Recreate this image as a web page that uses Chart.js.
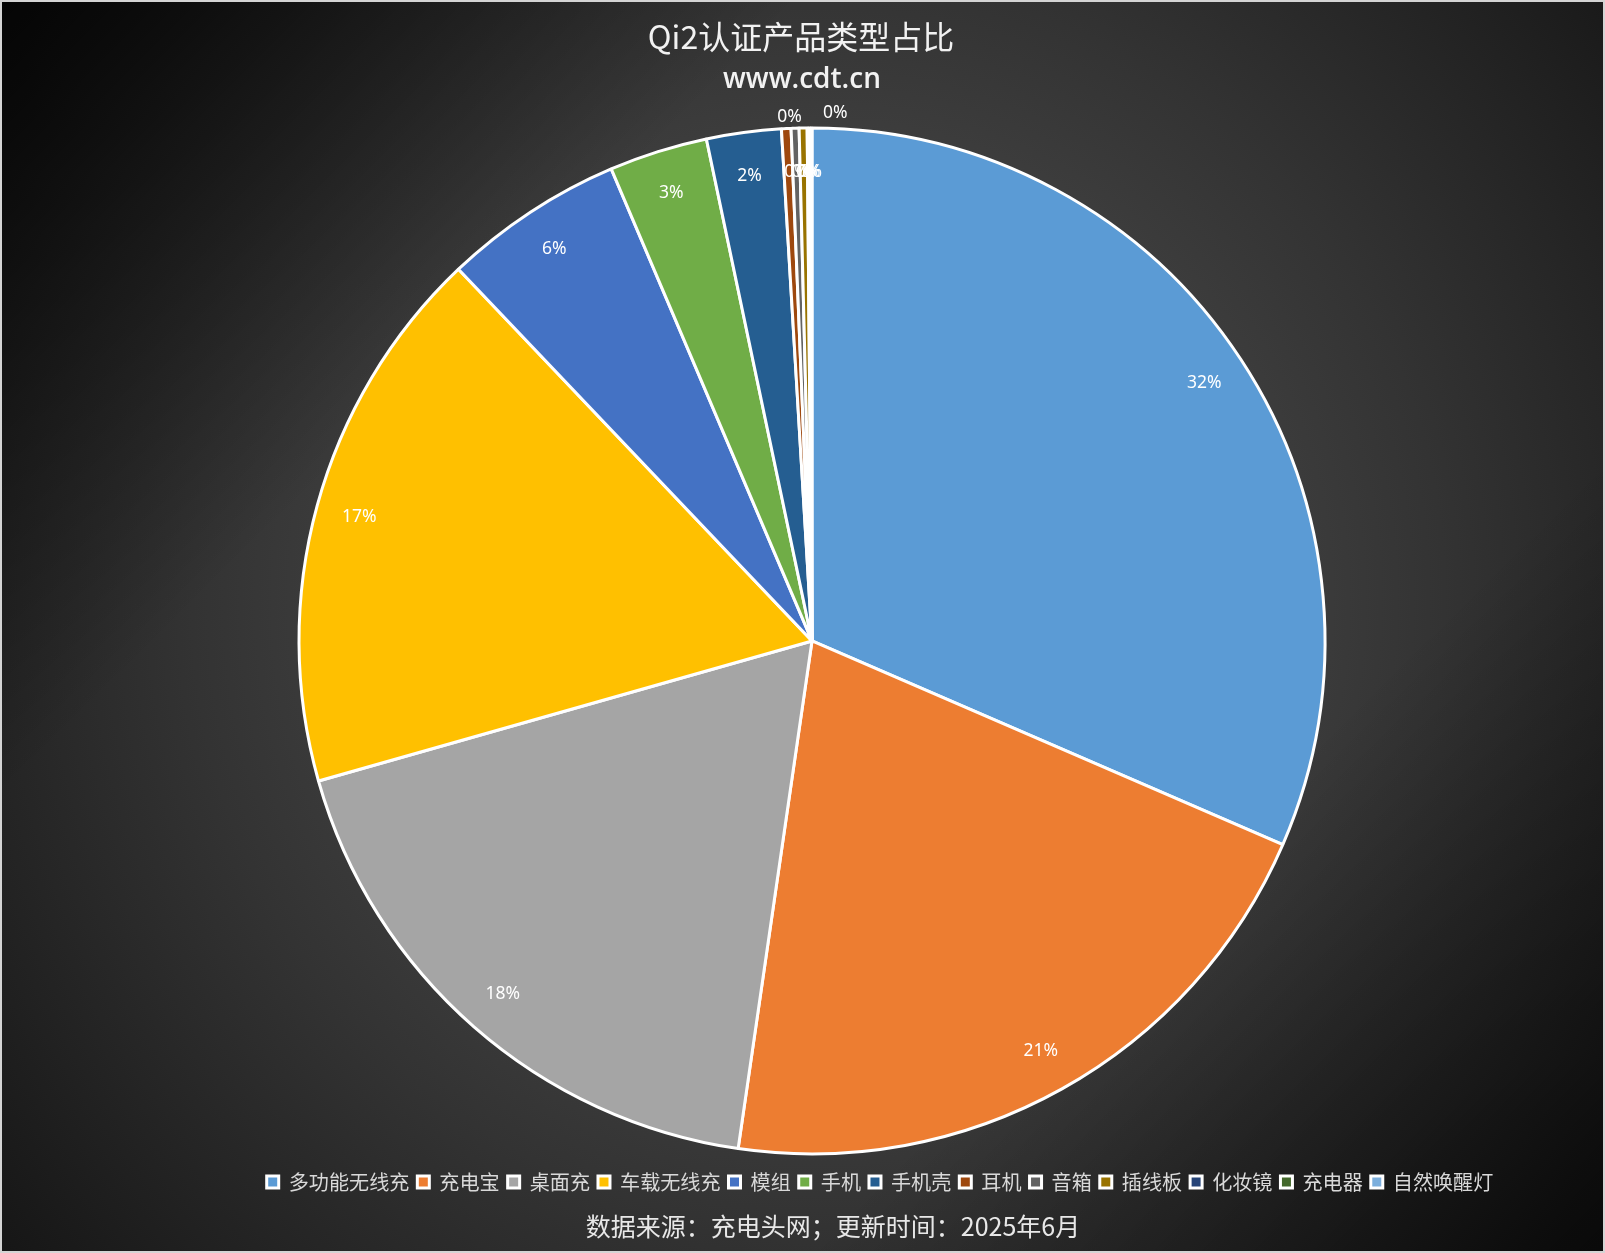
<!DOCTYPE html>
<html>
<head>
<meta charset="utf-8">
<script src="https://cdn.jsdelivr.net/npm/chart.js@4/dist/chart.umd.min.js"></script>
<style>
  html, body { margin: 0; padding: 0; background: #000; }
  #wrap { position: relative; width: 1605px; height: 1253px; overflow: hidden; }
  #bg {
    position: absolute; left: 0; top: 0; width: 1605px; height: 1253px; box-sizing: border-box;
    border: 2px solid #d4d4d4;
    background:
      linear-gradient(135deg, rgba(0,0,0,0.8) 0%, rgba(0,0,0,0) 28%, rgba(0,0,0,0) 72%, rgba(0,0,0,0.6) 100%),
      radial-gradient(circle farthest-corner at 51% 48%, #4a4a4a 0%, #404040 40%, #333333 60%, #262626 78%, #161616 100%);
  }
  canvas { position: absolute; left: 0; top: 0; }
  #footer {
    position: absolute; left: 433px; width: 800px; top: 1209px; line-height: 32px;
    text-align: center; color: #e8e8e8; font-size: 25px;
    font-family: "Noto Sans CJK SC", "Noto Sans", sans-serif;
  }
</style>
</head>
<body>
<div id="wrap">
  <div id="bg"></div>
  <canvas id="c" width="1605" height="1253"></canvas>
  <div id="footer">数据来源：充电头网；更新时间：2025年6月</div>
</div>
<script>
const titleText = 'Qi2认证产品类型占比';
const subtitleText = 'www.cdt.cn';
const categories = ['多功能无线充', '充电宝', '桌面充', '车载无线充', '模组', '手机', '手机壳', '耳机', '音箱', '插线板', '化妆镜', '充电器', '自然唤醒灯'];
const counts = [630, 416, 366, 346, 114, 62, 47, 6, 5, 5, 1, 1, 1];
const colors = ['#5B9BD5', '#ED7D31', '#A5A5A5', '#FFC000', '#4472C4', '#70AD47', '#255E91', '#9E480E', '#636363', '#997300', '#264478', '#43682B', '#7CAFDD'];

// label placement for the tiny slices that Excel pushed outside
const OUTSIDE_LABELS = { 7: { gap: 12, dx: 4 }, 12: { gap: 15, dx: 24 } };

const CJK = '"Noto Sans CJK SC", "Noto Sans", sans-serif';

const shiftPlugin = {
  id: 'shiftBoxes',
  afterLayout(chart) {
    const lg = chart.legend;
    if (lg) { lg.left += 68; lg.right += 68; }
    chart.boxes.forEach(b => {
      if (b.options && b.options.text === titleText) { b.left -= 11; b.right -= 11; }
      if (b.options && b.options.text === subtitleText) { b.left -= 10; b.right -= 10; }
    });
  }
};

const labelPlugin = {
  id: 'sliceLabels',
  afterDatasetsDraw(chart) {
    const ctx = chart.ctx;
    const meta = chart.getDatasetMeta(0);
    const data = chart.data.datasets[0].data;
    const total = data.reduce((a, b) => a + b, 0);
    ctx.save();
    ctx.font = '17.5px "Noto Sans", sans-serif';
    ctx.fillStyle = '#ffffff';
    ctx.textAlign = 'center';
    ctx.textBaseline = 'middle';
    meta.data.forEach((arc, i) => {
      const p = arc.getProps(['x', 'y', 'startAngle', 'endAngle', 'outerRadius'], true);
      const mid = (p.startAngle + p.endAngle) / 2;
      const o = OUTSIDE_LABELS[i];
      const r = o ? p.outerRadius + o.gap : p.outerRadius * 0.915;
      const dx = o ? o.dx : 0;
      ctx.fillText(Math.round(data[i] / total * 100) + '%', p.x + Math.cos(mid) * r + dx, p.y + Math.sin(mid) * r);
    });
    ctx.restore();
  }
};

new Chart(document.getElementById('c'), {
  type: 'pie',
  data: {
    labels: categories,
    datasets: [{
      data: counts,
      backgroundColor: colors,
      borderColor: '#ffffff',
      borderWidth: 3,
      radius: 513
    }]
  },
  options: {
    responsive: false,
    animation: false,
    devicePixelRatio: 1,
    layout: { padding: { left: 19, right: 0, top: 0, bottom: 51 } },
    plugins: {
      title: {
        display: true, text: titleText, color: '#f2f2f2',
        font: { family: CJK, size: 32, weight: 'normal' },
        padding: { top: 18, bottom: 7 }
      },
      subtitle: {
        display: true, text: subtitleText, color: '#f2f2f2',
        font: { family: '"Open Sans", "Noto Sans", sans-serif', size: 28, weight: '600' },
        padding: { top: 0, bottom: 21 }
      },
      legend: {
        display: true, position: 'bottom',
        labels: {
          color: '#d9d9d9', boxWidth: 12, boxHeight: 12, padding: 8,
          font: { family: CJK, size: 20.1 }
        }
      },
      tooltip: { enabled: false }
    }
  },
  plugins: [shiftPlugin, labelPlugin]
});
</script>
</body>
</html>
